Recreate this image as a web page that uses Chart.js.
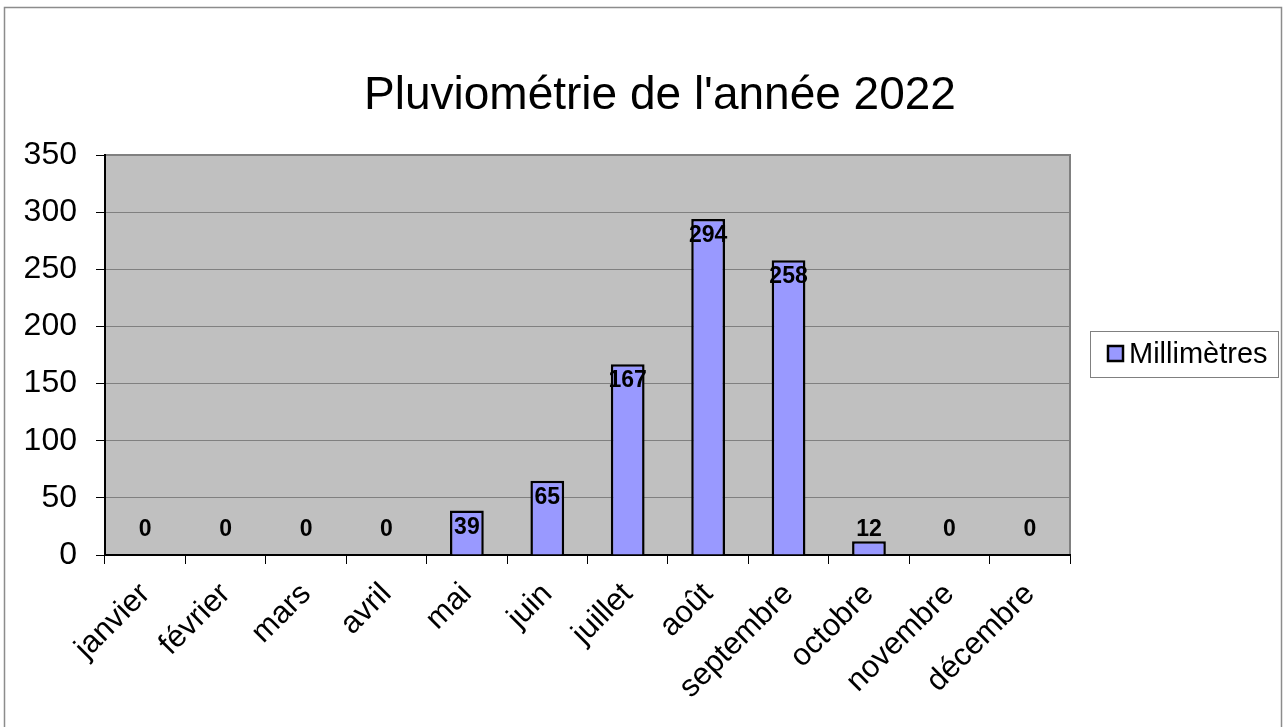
<!DOCTYPE html>
<html lang="fr">
<head>
  <meta charset="UTF-8">
  <title>Pluviométrie 2022</title>
  <script src="https://cdn.jsdelivr.net/npm/chart.js"></script>
  <style>
    html, body { margin: 0; padding: 0; background: #fff; }
    #wrap { width: 1283px; height: 727px; }
  </style>
</head>
<body>
  <div id="wrap"><canvas id="graphique"></canvas></div>
  <script>
    // données
    var mois = ['janvier', 'février', 'mars', 'avril', 'mai', 'juin', 'juillet', 'août', 'septembre', 'octobre', 'novembre', 'décembre'];
    var millimetres = [0, 0, 0, 0, 39, 65, 167, 294, 258, 12, 0, 0];
    var titre = "Pluviométrie de l'année 2022";
    var nomSerie = 'Millimètres';

    var police = '"Liberation Sans", Arial, sans-serif';

    // fond gris de la zone de tracé + cadre extérieur
    var fondPlugin = {
      id: 'fond',
      beforeDraw: function (chart) {
        var ctx = chart.ctx, a = chart.chartArea;
        ctx.save();
        ctx.fillStyle = '#c0c0c0';
        ctx.fillRect(a.left, a.top, a.right - a.left, a.bottom - a.top);
        ctx.strokeStyle = '#808080';
        ctx.lineWidth = 2;
        ctx.beginPath();
        ctx.moveTo(a.left, a.top);
        ctx.lineTo(a.right, a.top);
        ctx.lineTo(a.right, a.bottom);
        ctx.stroke();
        ctx.restore();
      },
      afterDraw: function (chart) {
        var ctx = chart.ctx;
        ctx.save();
        // cadre du graphique
        ctx.strokeStyle = '#8c8c8c';
        ctx.lineWidth = 1.5;
        ctx.strokeRect(4.5, 7.5, 1277, 740);
        // titre
        ctx.fillStyle = '#000';
        ctx.font = '46px ' + police;
        ctx.textAlign = 'center';
        ctx.textBaseline = 'middle';
        ctx.fillText(titre, 660, 96);
        // légende
        var ds = chart.data.datasets[0];
        ctx.fillStyle = '#fff';
        ctx.fillRect(1090, 331, 188, 46);
        ctx.strokeStyle = '#808080';
        ctx.lineWidth = 1;
        ctx.strokeRect(1090.5, 331.5, 188, 46);
        ctx.fillStyle = ds.backgroundColor;
        ctx.fillRect(1108, 346, 15, 15);
        ctx.strokeStyle = '#000';
        ctx.lineWidth = 2.5;
        ctx.strokeRect(1108, 346, 15, 15);
        ctx.fillStyle = '#000';
        ctx.font = '29px ' + police;
        ctx.textAlign = 'left';
        ctx.fillText(ds.label, 1129, 355);
        ctx.restore();
      }
    };

    // étiquettes de valeurs
    var etiquettesPlugin = {
      id: 'etiquettes',
      afterDatasetsDraw: function (chart) {
        var ctx = chart.ctx;
        var meta = chart.getDatasetMeta(0);
        var base = chart.scales.y.getPixelForValue(0);
        ctx.save();
        ctx.fillStyle = '#000';
        ctx.font = 'bold 23px ' + police;
        ctx.textAlign = 'center';
        ctx.textBaseline = 'middle';
        meta.data.forEach(function (bar, i) {
          var y = Math.min(bar.y + 17, base - 25);
          ctx.fillText(String(chart.data.datasets[0].data[i]), bar.x, y);
        });
        ctx.restore();
      }
    };

    new Chart(document.getElementById('graphique'), {
      type: 'bar',
      data: {
        labels: mois,
        datasets: [{
          label: nomSerie,
          data: millimetres,
          backgroundColor: '#9999ff',
          borderColor: '#000',
          borderWidth: 2.5,
          barPercentage: 1,
          categoryPercentage: 0.42
        }]
      },
      options: {
        responsive: true,
        maintainAspectRatio: false,
        animation: false,
        layout: { padding: { left: 10, right: 213, top: 155, bottom: 0 } },
        plugins: {
          legend: { display: false },
          title: { display: false },
          tooltip: { enabled: false }
        },
        scales: {
          x: {
            offset: true,
            grid: { display: true, drawOnChartArea: false, drawTicks: true, tickLength: 9, color: '#000', offset: true },
            border: { display: true, color: '#000', width: 2 },
            ticks: {
              color: '#000',
              font: { family: police, size: 31 },
              maxRotation: 45,
              minRotation: 45,
              padding: 12,
              autoSkip: false
            },
            afterFit: function (scale) { scale.height = 172; }
          },
          y: {
            min: 0,
            max: 350,
            grid: { color: '#808080', lineWidth: 1, tickLength: 9, tickColor: '#000' },
            border: { display: true, color: '#000', width: 2 },
            ticks: {
              stepSize: 50,
              color: '#000',
              font: { family: police, size: 32 },
              padding: 19
            },
            afterFit: function (scale) { scale.width = 95; }
          }
        }
      },
      plugins: [fondPlugin, etiquettesPlugin]
    });
  </script>
</body>
</html>
